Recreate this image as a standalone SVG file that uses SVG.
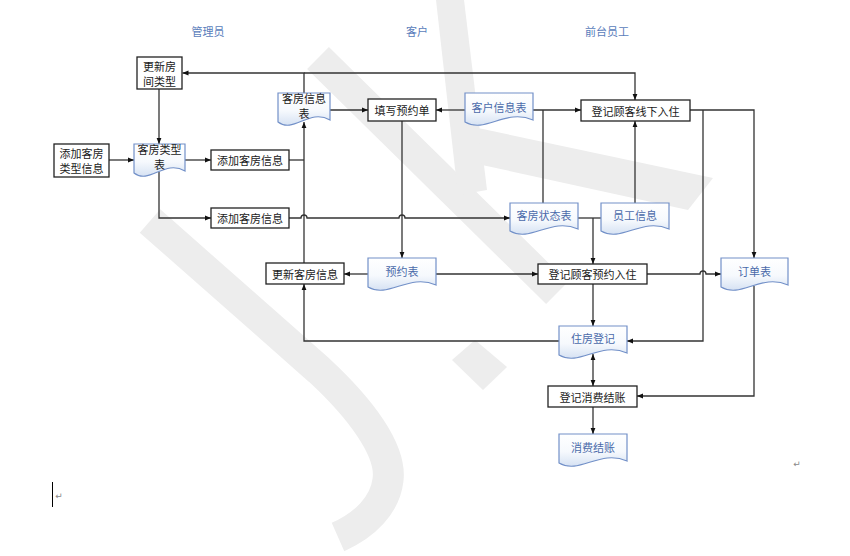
<svg xmlns="http://www.w3.org/2000/svg" width="850" height="556" viewBox="0 0 850 556">
<style>
text{font-family:"Noto Sans CJK SC","Noto Sans",sans-serif;font-size:11px;text-anchor:middle;dominant-baseline:central}
.box{fill:#fff;stroke:#222;stroke-width:1.3}
.doc{fill:url(#docg);stroke:#7290c8;stroke-width:1.2}
.bt{fill:#1a1a1a}
.dt{fill:#4a6aaa}
.hd{fill:#5a7dbb}
.ln{fill:none;stroke:#333;stroke-width:1.3}
.wm{fill:#ededed;stroke:none}
.wms{fill:none;stroke:#ededed;stroke-linecap:butt}
.pm{fill:#888;font-family:"DejaVu Sans",sans-serif;font-size:9px}
</style>
<defs>
<linearGradient id="docg" x1="0" y1="0" x2="0" y2="1">
<stop offset="0" stop-color="#ffffff"/>
<stop offset="0.55" stop-color="#f6f9fd"/>
<stop offset="1" stop-color="#d6e2f3"/>
</linearGradient>
<marker id="arr" viewBox="0 0 10 10" refX="10" refY="5" markerWidth="6" markerHeight="6" markerUnits="userSpaceOnUse" orient="auto-start-reverse">
<path d="M0,1 L10,5 L0,9 Z" fill="#111"/>
</marker>
</defs>
<rect width="850" height="556" fill="#fff"/>
<g id="watermark">
<path class="wms" stroke-width="31" d="M150,221 L319,370 C360,408 392,450 388,480 C385,505 365,525 338,537"/>
<path class="wms" stroke-width="31" d="M318,58 L557,293"/>
<polygon class="wm" points="436,0 464,0 487,190 458,195"/>
<polygon class="wm" points="478,128 713,178 688,210 482,165"/>
<polygon class="wm" points="475,340 507,367 483,390 452,360"/>
</g>
<g id="headers">
<text class="hd" x="208" y="31">管理员</text>
<text class="hd" x="417" y="31">客户</text>
<text class="hd" x="607" y="31">前台员工</text>
</g>
<g id="connectors">
<path class="ln" d="M109,160 H134" marker-end="url(#arr)"/>
<path class="ln" d="M159,89 V144" marker-end="url(#arr)"/>
<path class="ln" d="M185,160 H211" marker-end="url(#arr)"/>
<path class="ln" d="M159,172 V218 H211" marker-end="url(#arr)"/>
<path class="ln" d="M289,160 H304"/>
<path class="ln" d="M304,263 V122" marker-end="url(#arr)"/>
<path class="ln" d="M304,93 V73 H182.5" marker-end="url(#arr)"/>
<path class="ln" d="M304,73 H635 V100" marker-end="url(#arr)"/>
<path class="ln" d="M289,218 H301 a3,3 0 0 1 6,0 H399 a3,3 0 0 1 6,0 H510" marker-end="url(#arr)"/>
<path class="ln" d="M330,110 H368" marker-end="url(#arr)"/>
<path class="ln" d="M465,110 H436" marker-end="url(#arr)"/>
<path class="ln" d="M533,110 H581" marker-end="url(#arr)"/>
<path class="ln" d="M543,203 V110"/>
<path class="ln" d="M635,203 V121" marker-end="url(#arr)"/>
<path class="ln" d="M402,121 V258" marker-end="url(#arr)"/>
<path class="ln" d="M368,274 H344" marker-end="url(#arr)"/>
<path class="ln" d="M436,274 H538" marker-end="url(#arr)"/>
<path class="ln" d="M578,218 H601"/>
<path class="ln" d="M593,218 V264" marker-end="url(#arr)"/>
<path class="ln" d="M647,274 H700 a3,3 0 0 1 6,0 H721" marker-end="url(#arr)"/>
<path class="ln" d="M690,110 H754 V258" marker-end="url(#arr)"/>
<path class="ln" d="M703,110 V341 H627" marker-end="url(#arr)"/>
<path class="ln" d="M593,284 V326" marker-end="url(#arr)"/>
<path class="ln" d="M559,341 H304 V284" marker-end="url(#arr)"/>
<path class="ln" d="M593,354 V386" marker-start="url(#arr)" marker-end="url(#arr)"/>
<path class="ln" d="M754,286 V396 H637" marker-end="url(#arr)"/>
<path class="ln" d="M593,407 V434" marker-end="url(#arr)"/>
</g>
<g id="n_update_type">
<rect class="box" x="137" y="57" width="45" height="32"/>
<text class="bt" x="159.5" y="65.5">更新房</text>
<text class="bt" x="159.5" y="80.5">间类型</text>
</g>
<g id="n_add_type">
<rect class="box" x="54" y="144" width="55" height="33"/>
<text class="bt" x="81.5" y="153">添加客房</text>
<text class="bt" x="81.5" y="167.5">类型信息</text>
</g>
<g id="n_type_table">
<path class="doc" d="M134,144 H185 V171 C164.6,159 149.3,185 134,173 Z"/>
<text class="bt" x="159.5" y="149">客房类型</text>
<text class="bt" x="159.5" y="163.5">表</text>
</g>
<g id="n_add_room1">
<rect class="box" x="211" y="150" width="78" height="20"/>
<text class="bt" x="250" y="160">添加客房信息</text>
</g>
<g id="n_add_room2">
<rect class="box" x="211" y="208" width="78" height="20"/>
<text class="bt" x="250" y="218">添加客房信息</text>
</g>
<g id="n_room_table">
<path class="doc" d="M278,93 H330 V120 C309.2,108 293.6,134 278,122 Z"/>
<text class="bt" x="304" y="98">客房信息</text>
<text class="bt" x="304" y="113">表</text>
</g>
<g id="n_fill_order">
<rect class="box" x="368" y="99" width="68" height="22"/>
<text class="bt" x="402" y="110">填写预约单</text>
</g>
<g id="n_customer_table">
<path class="doc" d="M465,93 H533 V120 C505.8,108 485.4,134 465,122 Z"/>
<text class="dt" x="499" y="107">客户信息表</text>
</g>
<g id="n_offline_checkin">
<rect class="box" x="581" y="100" width="109" height="21"/>
<text class="bt" x="635.5" y="110.5">登记顾客线下入住</text>
</g>
<g id="n_room_status">
<path class="doc" d="M510,203 H578 V229 C550.8,217 530.4,243 510,231 Z"/>
<text class="dt" x="544" y="215">客房状态表</text>
</g>
<g id="n_staff">
<path class="doc" d="M601,203 H669 V229 C641.8,217 621.4,243 601,231 Z"/>
<text class="dt" x="635" y="215">员工信息</text>
</g>
<g id="n_update_room">
<rect class="box" x="266" y="263" width="78" height="21"/>
<text class="bt" x="305" y="273.5">更新客房信息</text>
</g>
<g id="n_reserve_table">
<path class="doc" d="M368,258 H436 V285 C408.8,273 388.4,299 368,287 Z"/>
<text class="dt" x="402" y="270.5">预约表</text>
</g>
<g id="n_reserve_checkin">
<rect class="box" x="538" y="264" width="109" height="20"/>
<text class="bt" x="592.5" y="274">登记顾客预约入住</text>
</g>
<g id="n_order_table">
<path class="doc" d="M721,258 H788 V285 C761.2,273 741.1,299 721,287 Z"/>
<text class="dt" x="754.5" y="270.5">订单表</text>
</g>
<g id="n_stay_record">
<path class="doc" d="M559,326 H627 V353 C599.8,341 579.4,367 559,355 Z"/>
<text class="dt" x="593" y="338">住房登记</text>
</g>
<g id="n_checkout">
<rect class="box" x="548" y="386" width="89" height="21"/>
<text class="bt" x="592.5" y="396.5">登记消费结账</text>
</g>
<g id="n_bill">
<path class="doc" d="M559,434 H627 V461 C599.8,449 579.4,475 559,463 Z"/>
<text class="dt" x="593" y="447">消费结账</text>
</g>
<g id="marks">
<text class="pm" x="797" y="464">↵</text>
<line x1="52.5" y1="482" x2="52.5" y2="507" stroke="#000" stroke-width="1"/>
<text class="pm" x="59" y="496">↵</text>
</g>
</svg>
